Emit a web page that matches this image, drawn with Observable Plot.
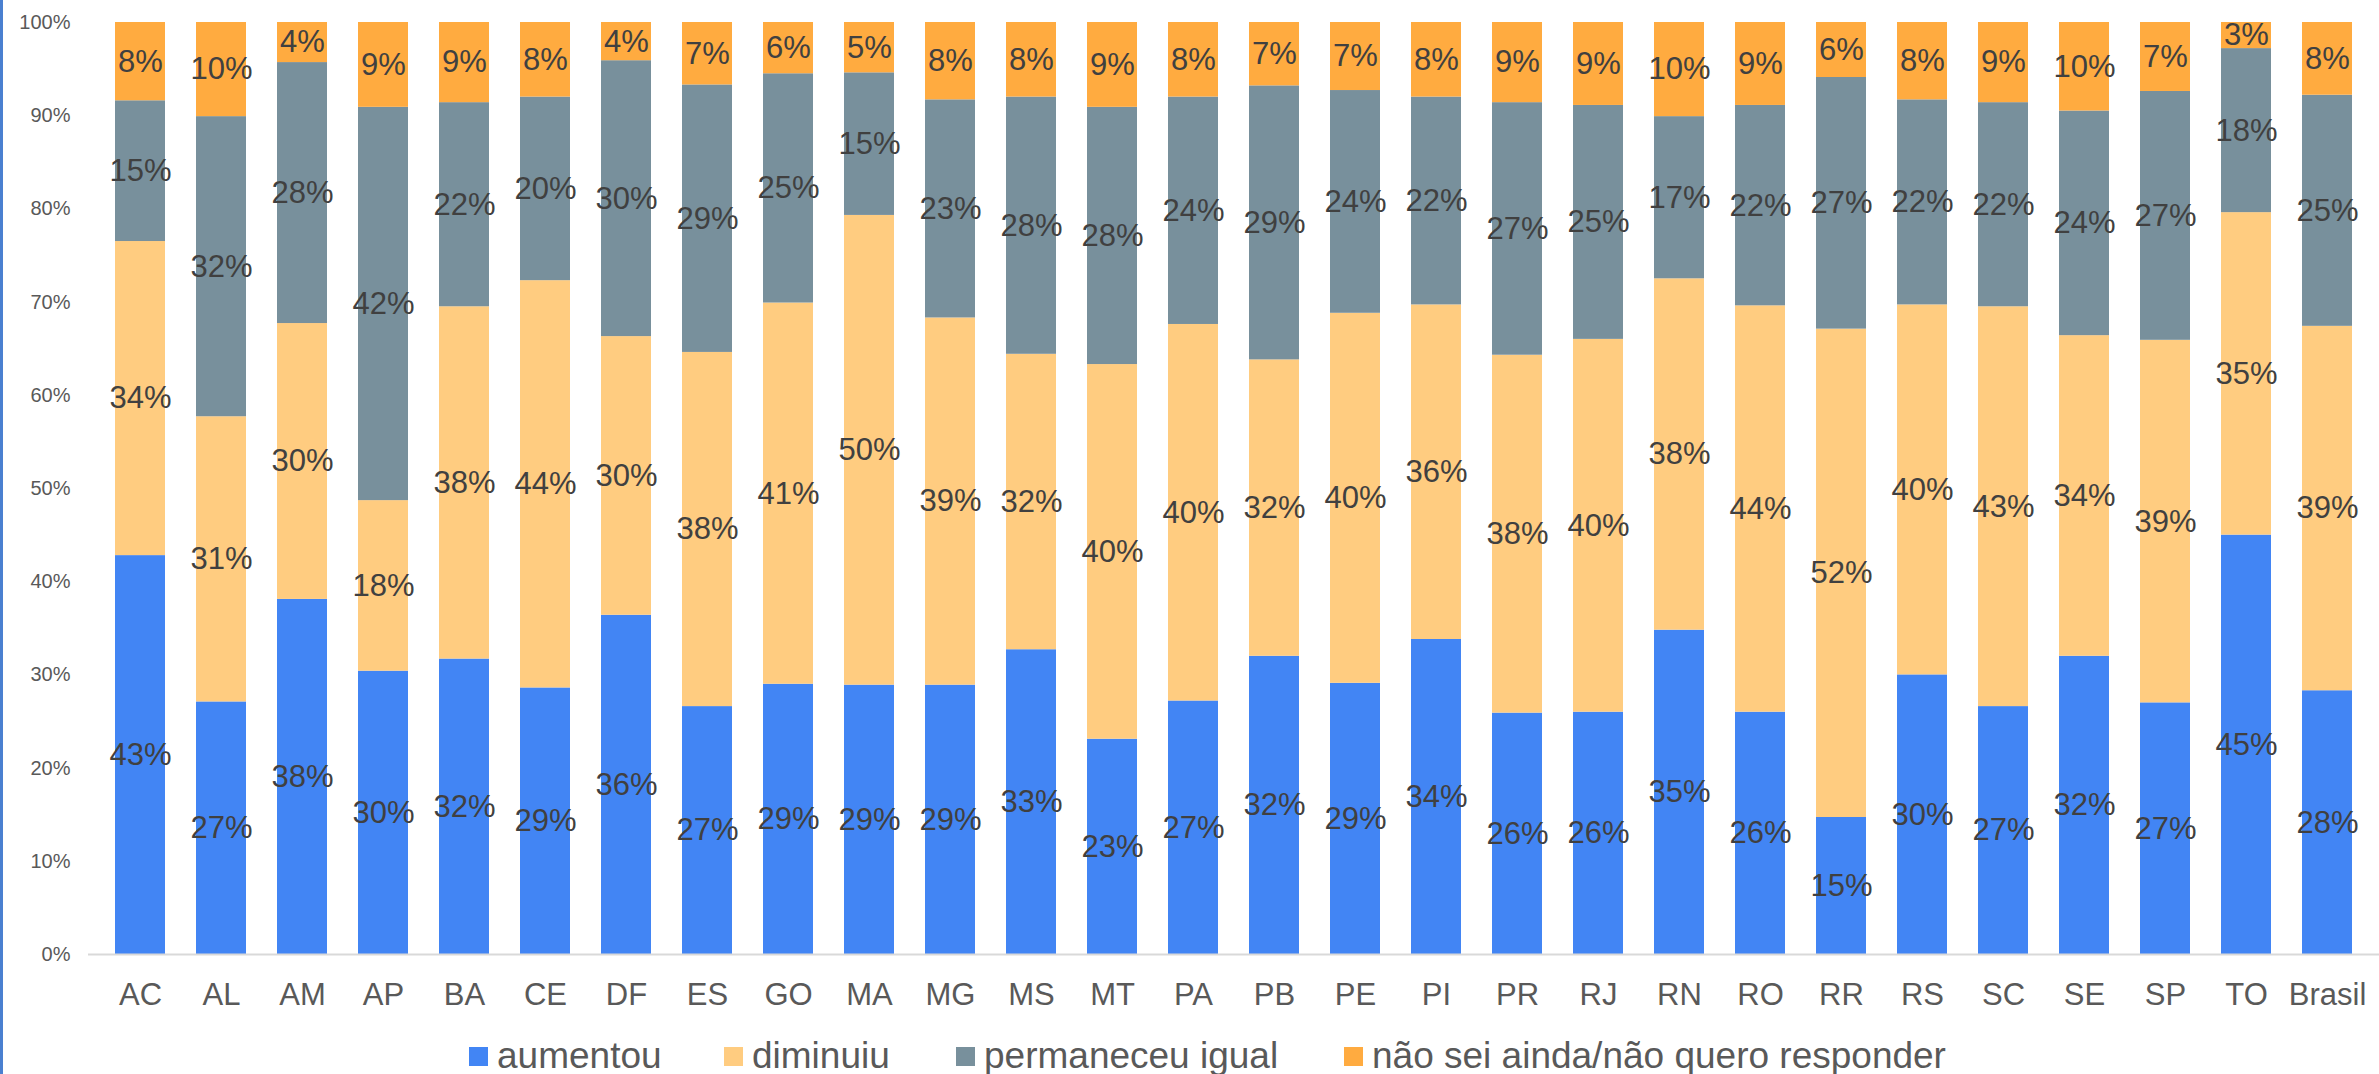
<!DOCTYPE html>
<html>
<head>
<meta charset="utf-8">
<script src="https://cdn.jsdelivr.net/npm/d3@7"></script>
<script src="https://cdn.jsdelivr.net/npm/@observablehq/plot@0.6"></script>
<style>
  html, body { margin: 0; padding: 0; background: #ffffff; overflow: hidden; }
  #wrap { position: relative; width: 2379px; height: 1074px; font-family: "Liberation Sans", Arial, sans-serif; }
  #edge { position: absolute; left: 0; top: 0; width: 3px; height: 1074px; background: #4a80d0; }
  #chart { position: absolute; left: 0; top: 0; }
  .leg { position: absolute; top: 1036px; height: 40px; display: flex; align-items: center; font-size: 37px; color: #595959; white-space: nowrap; }
  .leg span.sw { display: inline-block; width: 19px; height: 19px; margin-right: 9px; }
</style>
</head>
<body>
<div id="wrap">
  <div id="chart"></div>
  <div id="legend"></div>
  <div id="edge"></div>
</div>
<script>
const ufs = ["AC","AL","AM","AP","BA","CE","DF","ES","GO","MA","MG","MS","MT","PA","PB","PE","PI","PR","RJ","RN","RO","RR","RS","SC","SE","SP","TO","Brasil"];
const categories = ["aumentou","diminuiu","permaneceu igual","não sei ainda/não quero responder"];
const colors = ["#4285F4","#FFCC80","#78909C","#FFAB40"];

const aumentou   = [42.8,27.1,38.1,30.4,31.7,28.6,36.4,26.6,29.0,28.9,28.9,32.7,23.1,27.2,32.0,29.1,33.8,25.9,26.0,34.8,26.0,14.7,30.0,26.6,32.0,27.0,45.0,28.3];
const diminuiu   = [33.7,30.6,29.6,18.3,37.8,43.7,29.9,38.0,40.9,50.4,39.4,31.7,40.2,40.4,31.8,39.7,35.9,38.4,40.0,37.7,43.6,52.4,39.7,42.9,34.4,38.9,34.6,39.1];
const permaneceu = [15.1,32.2,28.0,42.2,21.9,19.7,29.6,28.7,24.6,15.3,23.4,27.6,27.6,24.4,29.4,23.9,22.3,27.1,25.1,17.4,21.5,27.0,22.0,21.9,24.1,26.7,17.6,24.8];
const naoSei     = [8.4,10.1,4.3,9.1,8.6,8.0,4.1,6.7,5.5,5.4,8.3,8.0,9.1,8.0,6.8,7.3,8.0,8.6,8.9,10.1,8.9,5.9,8.3,8.6,9.5,7.4,2.8,7.8];
const yTicks = [0,10,20,30,40,50,60,70,80,90,100];

const series = [aumentou, diminuiu, permaneceu, naoSei];
const data = [];
ufs.forEach((uf, i) => {
  categories.forEach((cat, k) => data.push({uf, cat, value: series[k][i]}));
});

const chart = Plot.plot({
  width: 2379,
  height: 1030,
  marginTop: 22,
  marginBottom: 76,
  marginLeft: 88,
  marginRight: 0,
  style: {fontFamily: '"Liberation Sans", Arial, sans-serif', background: "transparent"},
  x: {domain: ufs, paddingInner: 0.377, paddingOuter: 0.1885, axis: null, label: null},
  y: {domain: [0, 100], axis: null, label: null},
  color: {domain: categories, range: colors},
  marks: [
    Plot.barY(data, {x: "uf", y: "value", z: "cat", fill: "cat", order: null}),
    Plot.ruleY([0], {stroke: "#D9D9D9", strokeWidth: 2}),
    Plot.text(data, Plot.stackY({x: "uf", y: "value", z: "cat", order: null,
      text: d => Math.round(d.value) + "%", fontSize: 31, fill: "#404040"})),
    Plot.axisY({ticks: yTicks, tickSize: 0, tickPadding: 18, tickFormat: d => d + "%", fontSize: 20, fill: "#595959", label: null}),
    Plot.axisX({tickSize: 0, tickPadding: 28, fontSize: 31, fill: "#595959", label: null})
  ]
});
document.getElementById("chart").appendChild(chart);

const legX = [469, 724, 956, 1344];
const legend = document.getElementById("legend");
categories.forEach((cat, k) => {
  const item = document.createElement("div");
  item.className = "leg";
  item.style.left = legX[k] + "px";
  const sw = document.createElement("span");
  sw.className = "sw";
  sw.style.background = colors[k];
  item.appendChild(sw);
  item.appendChild(document.createTextNode(cat));
  legend.appendChild(item);
});
</script>
</body>
</html>
